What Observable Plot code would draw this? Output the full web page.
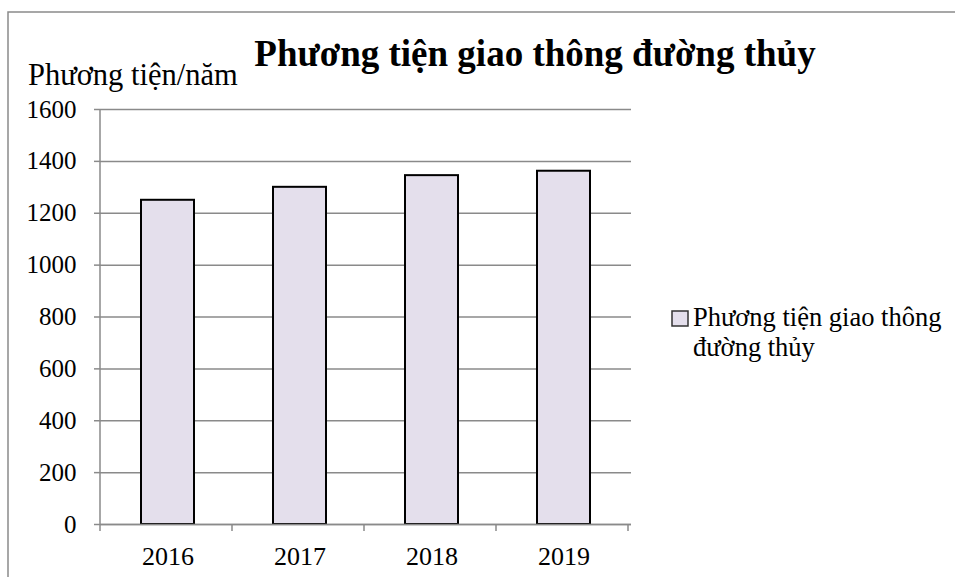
<!DOCTYPE html>
<html>
<head>
<meta charset="utf-8">
<script src="https://cdn.jsdelivr.net/npm/d3@7"></script>
<script src="https://cdn.jsdelivr.net/npm/@observablehq/plot@0.6"></script>
<style>
  body { margin: 0; background: #fff; }
  #chart { width: 955px; height: 577px; overflow: hidden; }
  #chart svg { display: block; }
</style>
</head>
<body>
<div id="chart"></div>
<script>
// Waterway vehicles per year
const years = ["2016", "2017", "2018", "2019"];
const vehicles = [1250, 1300, 1345, 1362];
const yTicks = [0, 200, 400, 600, 800, 1000, 1200, 1400, 1600];

const titleText = "Phương tiện giao thông đường thủy";
const yLabelText = "Phương tiện/năm";
const legendLines = ["Phương tiện giao thông", "đường thủy"];

const data = years.map((year, i) => ({ year, value: vehicles[i] }));

const serif = "'Liberation Serif', 'Times New Roman', serif";
const gridColor = "#8a8a8a";
const barFill = "#e4dfec";

const chart = Plot.plot({
  width: 955,
  height: 577,
  marginLeft: 100,
  marginRight: 324,
  marginTop: 109,
  marginBottom: 53,
  style: { fontFamily: serif, color: "#000", background: "#fff", overflow: "visible" },
  x: { domain: years, paddingInner: 0.6, paddingOuter: 0.3, label: null },
  y: { domain: [0, 1600], label: null },
  marks: [
    Plot.gridY(yTicks, { stroke: gridColor, strokeOpacity: 1, strokeWidth: 1.5 }),
    Plot.axisY(yTicks, {
      tickSize: 6, tickPadding: 18, stroke: gridColor, strokeWidth: 1.5,
      tickFormat: d => String(d), fontSize: 25, fill: "#000", label: null
    }),
    Plot.axisX({ tickSize: 0, tickPadding: 22, fontSize: 26, fill: "#000", label: null }),
    Plot.barY(data, { x: "year", y: "value", fill: barFill, stroke: "#000", strokeWidth: 2 }),
    Plot.ruleY([0], { stroke: gridColor, strokeWidth: 1.5 })
  ]
});

document.getElementById("chart").appendChild(chart);

// Axis lines and category separators, placed with the chart's own scales
const xs = chart.scale("x");
const ys = chart.scale("y");
const svg = d3.select(chart);
const [xLeft] = xs.range;
const axes = svg.append("g").attr("stroke", gridColor).attr("stroke-width", 1.5).attr("fill", "none");
axes.append("line")
  .attr("x1", xLeft).attr("x2", xLeft)
  .attr("y1", ys.apply(1600)).attr("y2", ys.apply(0));
d3.range(years.length + 1).forEach(i => {
  const x = xLeft + i * xs.step;
  axes.append("line")
    .attr("x1", x).attr("x2", x)
    .attr("y1", ys.apply(0)).attr("y2", ys.apply(0) + 7);
});

// Outer chart border
svg.append("rect")
  .attr("x", 8).attr("y", 12).attr("width", 1000).attr("height", 700)
  .attr("fill", "none").attr("stroke", "#8a8a8a").attr("stroke-width", 1.5);

// Title and y-axis caption
svg.append("text")
  .attr("x", 535).attr("y", 66)
  .attr("text-anchor", "middle")
  .attr("font-family", serif).attr("font-weight", "bold").attr("font-size", 37)
  .attr("fill", "#000")
  .text(titleText);

svg.append("text")
  .attr("x", 28).attr("y", 85)
  .attr("text-anchor", "start")
  .attr("font-family", serif).attr("font-size", 30.5)
  .attr("fill", "#000")
  .text(yLabelText);

// Legend
const legend = svg.append("g")
  .attr("font-family", serif).attr("font-size", 26.5)
  .attr("text-anchor", "start").attr("fill", "#000");
legend.append("rect")
  .attr("x", 672).attr("y", 311).attr("width", 16).attr("height", 15)
  .attr("fill", barFill).attr("stroke", "#333").attr("stroke-width", 1.5);
legendLines.forEach((line, i) => {
  legend.append("text")
    .attr("x", 693).attr("y", 326 + i * 30)
    .text(line);
});
</script>
</body>
</html>
